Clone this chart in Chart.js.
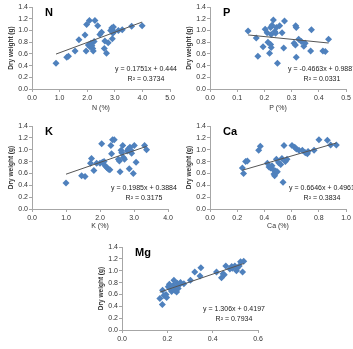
<!DOCTYPE html>
<html>
<head>
<meta charset="utf-8">
<script src="https://cdn.jsdelivr.net/npm/chart.js@4.4.1/dist/chart.umd.min.js"></script>
<style>
  html, body { margin: 0; padding: 0; background: #fff; width: 353px; height: 349px; overflow: hidden; }
  canvas { position: absolute; }
</style>
</head>
<body>
<canvas id="cN"></canvas>
<canvas id="cP"></canvas>
<canvas id="cK"></canvas>
<canvas id="cCa"></canvas>
<canvas id="cMg"></canvas>
<script>
// Data (x = nutrient %, y = dry weight g)
const nX = [0.87, 1.26, 1.32, 1.56, 1.70, 1.92, 1.96, 1.98, 2.08, 2.04, 2.10, 2.14, 2.17, 2.20, 2.22, 2.25, 2.28, 2.38, 2.46, 2.52, 2.62, 2.64, 2.70, 2.76, 2.85, 2.89, 2.91, 2.93, 2.95, 2.97, 3.13, 3.27, 3.61, 3.99];
const nY = [0.44, 0.54, 0.56, 0.65, 0.84, 0.92, 0.65, 1.10, 1.17, 0.75, 0.72, 0.78, 0.74, 0.69, 0.65, 0.81, 1.17, 1.08, 0.93, 0.97, 0.69, 0.82, 0.61, 0.79, 1.00, 1.04, 0.86, 0.95, 1.06, 0.98, 1.00, 1.01, 1.07, 1.08];

const pX = [0.14, 0.17, 0.176, 0.195, 0.203, 0.21, 0.213, 0.219, 0.223, 0.225, 0.228, 0.223, 0.225, 0.233, 0.238, 0.241, 0.248, 0.244, 0.256, 0.265, 0.271, 0.274, 0.309, 0.314, 0.315, 0.317, 0.317, 0.326, 0.336, 0.345, 0.35, 0.37, 0.373, 0.415, 0.424, 0.436];
const pY = [0.99, 0.87, 0.56, 0.72, 1.02, 0.96, 0.80, 0.61, 1.05, 0.93, 1.09, 0.76, 0.71, 1.18, 0.98, 0.95, 0.44, 1.05, 1.08, 0.96, 0.70, 1.16, 0.78, 0.75, 1.08, 1.05, 0.54, 0.85, 0.81, 0.73, 0.78, 0.65, 1.01, 0.65, 0.64, 0.85];

const kX = [1.00, 1.46, 1.56, 1.75, 1.72, 1.82, 1.90, 2.00, 2.05, 2.07, 2.12, 2.15, 2.20, 2.25, 2.29, 2.32, 2.34, 2.37, 2.42, 2.54, 2.57, 2.59, 2.62, 2.64, 2.67, 2.69, 2.72, 2.80, 2.83, 2.86, 2.88, 2.91, 2.93, 2.98, 3.01, 3.06, 3.31, 3.37];
const kY = [0.44, 0.56, 0.55, 0.85, 0.77, 0.65, 0.77, 0.77, 1.10, 0.79, 0.80, 0.73, 0.70, 0.67, 0.66, 1.07, 0.93, 1.17, 1.17, 0.84, 0.81, 0.63, 0.99, 0.95, 1.07, 0.87, 0.84, 0.98, 1.01, 0.68, 1.04, 0.99, 0.94, 0.60, 1.07, 0.79, 1.07, 1.00];

const caX = [0.238, 0.247, 0.262, 0.275, 0.358, 0.370, 0.422, 0.434, 0.446, 0.456, 0.463, 0.470, 0.475, 0.483, 0.488, 0.495, 0.505, 0.520, 0.529, 0.537, 0.544, 0.554, 0.566, 0.603, 0.623, 0.635, 0.654, 0.679, 0.701, 0.716, 0.721, 0.765, 0.801, 0.863, 0.887, 0.929];
const caY = [0.69, 0.60, 0.80, 0.81, 0.99, 1.06, 0.77, 0.71, 0.69, 0.73, 0.67, 0.59, 0.56, 0.64, 0.84, 0.63, 0.78, 0.75, 0.85, 0.45, 1.07, 0.80, 0.84, 1.07, 1.04, 1.01, 0.99, 0.99, 0.95, 0.93, 0.97, 0.99, 1.17, 1.16, 1.08, 1.08];

const mgX = [0.167, 0.178, 0.179, 0.185, 0.194, 0.197, 0.204, 0.209, 0.211, 0.219, 0.226, 0.229, 0.233, 0.238, 0.241, 0.244, 0.248, 0.252, 0.258, 0.273, 0.302, 0.321, 0.344, 0.348, 0.417, 0.439, 0.446, 0.451, 0.458, 0.476, 0.484, 0.487, 0.498, 0.505, 0.508, 0.517, 0.523, 0.532, 0.537];
const mgY = [0.53, 0.43, 0.67, 0.58, 0.60, 0.55, 0.73, 0.77, 0.70, 0.65, 0.75, 0.84, 0.67, 0.71, 0.64, 0.79, 0.70, 0.76, 0.80, 0.78, 0.84, 0.98, 0.91, 1.05, 0.98, 0.88, 0.95, 0.93, 1.08, 1.03, 1.07, 1.04, 1.08, 1.00, 1.04, 1.08, 1.15, 0.98, 1.16];

// Trendline end points (x, y) as drawn
const nTrend = [[0.87, 0.596], [3.99, 1.143]];
const pTrend = [[0.14, 0.923], [0.436, 0.785]];
const kTrend = [[1.00, 0.587], [3.37, 1.057]];
const caTrend = [[0.238, 0.654], [0.929, 1.114]];
const mgTrend = [[0.167, 0.638], [0.537, 1.121]];

// Equation / R² labels
const eqLabels = ['y = 0.1751x + 0.444', 'y = -0.4663x + 0.9887', 'y = 0.1985x + 0.3884', 'y = 0.6646x + 0.4961', 'y = 1.306x + 0.4197'];
const r2Labels = ['R² = 0.3734', 'R² = 0.0331', 'R² = 0.3175', 'R² = 0.3834', 'R² = 0.7934'];

// x axis maxima and steps
const xMaxes = [5, 0.5, 4, 1, 0.6];
const xSteps = [1, 0.1, 1, 0.2, 0.2];

Chart.defaults.font.family = '"Liberation Sans", Arial, sans-serif';
Chart.defaults.color = '#333';

const FONT = '"Liberation Sans", Arial, sans-serif';
const AXIS = '#a6a6a6';

// draws the panel letter and the trendline equation
const panelText = {
  id: 'panelText',
  afterDraw(chart, args, opts) {
    const ctx = chart.ctx;
    const a = chart.chartArea;
    ctx.save();
    ctx.fillStyle = '#000';
    ctx.font = 'bold 11px ' + FONT;
    ctx.textAlign = 'left';
    ctx.textBaseline = 'alphabetic';
    ctx.fillText(opts.name, a.left + 13, a.top + 9);
    ctx.font = '7px ' + FONT;
    ctx.fillStyle = '#222';
    ctx.textAlign = 'center';
    ctx.textBaseline = 'middle';
    ctx.fillText(opts.eq, a.right - 24, a.top + 62);
    ctx.fillText(opts.r2, a.right - 24, a.top + 72);
    ctx.restore();
  }
};

function makePanel(name, xs, ys, trend, i, box) {
  const cv = document.getElementById('c' + name);
  cv.width = 32 + box.w + 16;
  cv.height = 7 + box.h + box.xh;
  cv.style.left = (box.x - 32) + 'px';
  cv.style.top = (box.y - 7) + 'px';

  const pts = xs.map((x, j) => ({ x: x, y: ys[j] }));
  const line = trend.map(p => ({ x: p[0], y: p[1] }));

  new Chart(cv, {
    type: 'scatter',
    data: {
      datasets: [
        {
          data: line,
          showLine: true,
          borderColor: '#555',
          borderWidth: 1,
          pointRadius: 0
        },
        {
          data: pts,
          pointStyle: 'rectRot',
          pointRadius: 3.5,
          backgroundColor: '#4f81bd',
          borderColor: '#4f81bd',
          borderWidth: 0
        }
      ]
    },
    options: {
      responsive: false,
      animation: false,
      layout: { padding: { top: 7, right: 16, left: 0, bottom: 0 } },
      plugins: {
        legend: { display: false },
        tooltip: { enabled: false },
        panelText: { name: name, eq: eqLabels[i], r2: r2Labels[i] }
      },
      scales: {
        x: {
          type: 'linear',
          min: 0,
          max: xMaxes[i],
          ticks: { stepSize: xSteps[i], autoSkip: false, maxRotation: 0, padding: 2, font: { size: 7 }, callback: v => v.toFixed(1) },
          grid: { drawOnChartArea: false, tickLength: 3, color: AXIS },
          border: { color: AXIS },
          title: { display: true, text: name + ' (%)', font: { size: 7 }, padding: 0 },
          afterFit: s => { s.height = box.xh; s.paddingLeft = 0; s.paddingRight = 0; }
        },
        y: {
          min: 0,
          max: 1.4,
          ticks: { stepSize: 0.2, autoSkip: false, padding: 1, font: { size: 7 }, callback: v => v.toFixed(1) },
          grid: { drawOnChartArea: false, tickLength: 3, color: AXIS },
          border: { color: AXIS },
          title: { display: true, text: 'Dry weight (g)', font: { size: 6.5, weight: 'bold' }, padding: { top: 7, bottom: 0 } },
          afterFit: s => { s.width = 32; s.paddingTop = 0; s.paddingBottom = 0; }
        }
      }
    },
    plugins: [panelText]
  });
}

makePanel('N', nX, nY, nTrend, 0, { x: 32, y: 7, w: 138, h: 82, xh: 23 });
makePanel('P', pX, pY, pTrend, 1, { x: 210, y: 7, w: 136, h: 82, xh: 23 });
makePanel('K', kX, kY, kTrend, 2, { x: 32, y: 126, w: 136, h: 83, xh: 21 });
makePanel('Ca', caX, caY, caTrend, 3, { x: 210, y: 126, w: 136, h: 83, xh: 21 });
makePanel('Mg', mgX, mgY, mgTrend, 4, { x: 122, y: 247, w: 136, h: 83, xh: 27 });
</script>
</body>
</html>
